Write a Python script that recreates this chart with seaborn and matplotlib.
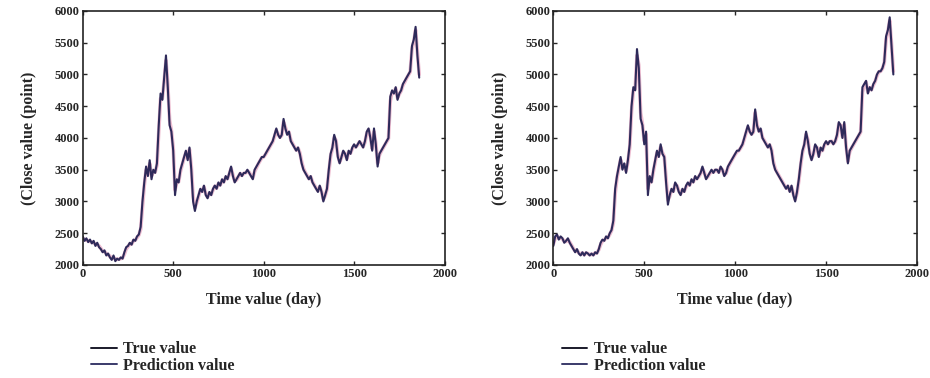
import numpy as np
import pandas as pd
import matplotlib
matplotlib.use("Agg")
import matplotlib.pyplot as plt
import seaborn as sns

# ---------------- data (10-day steps) ----------------
left_days = list(range(0, 1861, 10))
left_true = [
    2450, 2380, 2420, 2360, 2400, 2340, 2380, 2300, 2350, 2280,
    2250, 2200, 2230, 2150, 2180, 2120, 2080, 2150, 2060, 2100,
    2080, 2120, 2100, 2200, 2280, 2300, 2350, 2320, 2400, 2380,
    2450, 2480, 2600, 3000, 3300, 3550, 3400, 3650, 3350, 3500,
    3450, 3600, 4200, 4700, 4600, 4950, 5300, 4800, 4200, 4100,
    3800, 3100, 3350, 3300, 3500, 3600, 3700, 3800, 3650, 3850,
    3500, 3000, 2850, 3000, 3100, 3200, 3150, 3250, 3100, 3050,
    3150, 3100, 3200, 3250, 3200, 3300, 3250, 3350, 3300, 3400,
    3350, 3450, 3550, 3400, 3300, 3350, 3400, 3450, 3400, 3450,
    3450, 3500, 3450, 3400, 3350, 3500, 3550, 3600, 3650, 3700,
    3700, 3750, 3800, 3850, 3900, 3950, 4050, 4150, 4050, 4000,
    4050, 4300, 4150, 4050, 4100, 3950, 3900, 3850, 3800, 3850,
    3750, 3600, 3500, 3450, 3400, 3350, 3400, 3300, 3250, 3200,
    3150, 3250, 3150, 3000, 3100, 3200, 3500, 3750, 3850, 4050,
    3950, 3700, 3600, 3700, 3800, 3750, 3650, 3800, 3750, 3850,
    3900, 3850, 3900, 3950, 3900, 3850, 3950, 4100, 4150, 4000,
    3800, 4150, 3900, 3550, 3750, 3800, 3850, 3900, 3950, 4000,
    4650, 4750, 4700, 4800, 4600, 4700, 4750, 4850, 4900, 4950,
    5000, 5050, 5450, 5550, 5750, 5300, 4950,
]
left_pred = [
    2420, 2400, 2390, 2380, 2370, 2360, 2350, 2330, 2320, 2300,
    2260, 2220, 2210, 2180, 2160, 2140, 2100, 2120, 2090, 2090,
    2090, 2100, 2110, 2170, 2250, 2290, 2330, 2330, 2380, 2390,
    2430, 2470, 2560, 2900, 3250, 3500, 3430, 3600, 3400, 3470,
    3460, 3570, 4100, 4620, 4620, 4900, 5220, 4850, 4280, 4120,
    3850, 3180, 3300, 3310, 3470, 3580, 3680, 3770, 3680, 3820,
    3550, 3080, 2900, 2980, 3080, 3180, 3160, 3230, 3120, 3070,
    3130, 3110, 3180, 3240, 3210, 3280, 3260, 3330, 3310, 3380,
    3360, 3430, 3520, 3420, 3320, 3340, 3390, 3440, 3410, 3440,
    3450, 3480, 3460, 3410, 3370, 3470, 3530, 3590, 3640, 3690,
    3700, 3740, 3790, 3840, 3890, 3940, 4020, 4120, 4060, 4010,
    4040, 4250, 4170, 4070, 4090, 3970, 3910, 3860, 3810, 3840,
    3770, 3630, 3520, 3460, 3410, 3360, 3390, 3310, 3260, 3210,
    3170, 3230, 3160, 3030, 3090, 3190, 3450, 3710, 3830, 4010,
    3960, 3730, 3620, 3690, 3780, 3750, 3670, 3780, 3760, 3830,
    3880, 3860, 3890, 3940, 3910, 3860, 3930, 4070, 4130, 4020,
    3830, 4100, 3920, 3600, 3730, 3790, 3840, 3890, 3940, 3990,
    4580, 4720, 4710, 4780, 4630, 4690, 4740, 4830, 4880, 4940,
    4990, 5040, 5400, 5520, 5700, 5350, 5000,
]

right_days = list(range(0, 1871, 10))
right_true = [
    2300, 2450, 2480, 2400, 2450, 2420, 2350, 2380, 2420, 2350,
    2300, 2250, 2200, 2250, 2180, 2150, 2200, 2150, 2200, 2180,
    2150, 2180, 2150, 2200, 2180, 2250, 2350, 2400, 2380, 2450,
    2420, 2500, 2550, 2700, 3200, 3400, 3550, 3700, 3500, 3600,
    3450, 3650, 3900, 4500, 4800, 4750, 5400, 5100, 4300, 4200,
    3900, 4100, 3100, 3400, 3300, 3500, 3650, 3800, 3700, 3900,
    3750, 3700, 3300, 2950, 3100, 3200, 3150, 3300, 3250, 3150,
    3100, 3200, 3150, 3250, 3300, 3250, 3350, 3300, 3400, 3350,
    3400, 3450, 3550, 3450, 3350, 3400, 3450, 3500, 3450, 3500,
    3500, 3450, 3550, 3500, 3400, 3450, 3550, 3600, 3650, 3700,
    3750, 3800, 3800, 3850, 3900, 4000, 4100, 4200, 4100, 4050,
    4100, 4450, 4200, 4100, 4150, 4000, 3950, 3900, 3850, 3900,
    3800, 3600, 3500, 3450, 3400, 3350, 3300, 3250, 3200, 3250,
    3150, 3250, 3100, 3000, 3150, 3350, 3600, 3800, 3900, 4100,
    3950, 3750, 3650, 3750, 3900, 3850, 3700, 3850, 3800, 3900,
    3950, 3900, 3950, 3950, 3900, 3950, 4050, 4250, 4200, 4000,
    4250, 3850, 3600, 3800, 3850, 3900, 3950, 4000, 4050, 4100,
    4800, 4850, 4900, 4700, 4800, 4750, 4850, 4900, 5000, 5050,
    5050, 5100, 5200, 5600, 5700, 5900, 5450, 5000,
]
right_pred = [
    2330, 2420, 2460, 2420, 2430, 2410, 2370, 2370, 2400, 2360,
    2310, 2260, 2220, 2230, 2190, 2170, 2190, 2160, 2190, 2180,
    2160, 2170, 2160, 2190, 2190, 2240, 2320, 2380, 2390, 2430,
    2430, 2480, 2540, 2660, 3120, 3370, 3520, 3660, 3530, 3580,
    3480, 3620, 3850, 4420, 4750, 4770, 5300, 5150, 4400, 4220,
    3950, 4060, 3200, 3350, 3310, 3470, 3620, 3770, 3720, 3860,
    3770, 3710, 3360, 3020, 3080, 3180, 3160, 3270, 3250, 3170,
    3120, 3180, 3160, 3230, 3280, 3260, 3330, 3310, 3380, 3360,
    3390, 3440, 3520, 3460, 3370, 3390, 3440, 3480, 3460, 3490,
    3490, 3460, 3530, 3500, 3420, 3440, 3530, 3590, 3640, 3690,
    3740, 3780, 3800, 3840, 3890, 3980, 4080, 4170, 4110, 4060,
    4090, 4400, 4220, 4110, 4130, 4010, 3960, 3910, 3860, 3890,
    3820, 3630, 3520, 3460, 3410, 3360, 3310, 3260, 3210, 3240,
    3170, 3230, 3120, 3030, 3130, 3320, 3560, 3770, 3880, 4060,
    3970, 3770, 3670, 3740, 3870, 3850, 3720, 3830, 3800, 3880,
    3930, 3910, 3940, 3950, 3910, 3940, 4030, 4220, 4200, 4020,
    4210, 3880, 3630, 3780, 3840, 3890, 3940, 3990, 4040, 4090,
    4720, 4830, 4880, 4720, 4790, 4760, 4830, 4890, 4980, 5040,
    5050, 5090, 5180, 5550, 5680, 5850, 5480, 5050,
]

x_ticks = [0, 500, 1000, 1500, 2000]
y_ticks = [2000, 2500, 3000, 3500, 4000, 4500, 5000, 5500, 6000]
x_label = "Time value (day)"
y_label = "(Close value (point)"
series_names = ["True value", "Prediction value"]

# ---------------- style ----------------
sns.set_theme(style="ticks")
plt.rcParams["font.family"] = ["Liberation Serif", "DejaVu Serif"]
plt.rcParams["font.weight"] = "bold"

fig = plt.figure(figsize=(9.3, 3.78), dpi=100)
ax1 = fig.add_axes([0.089, 0.299, 0.389, 0.672])
ax2 = fig.add_axes([0.595, 0.299, 0.391, 0.672])

true_color = "#2e2a5a"
pred_color = "#d0588a"

for ax, days, tv, pv in [(ax1, left_days, left_true, left_pred),
                         (ax2, right_days, right_true, right_pred)]:
    df = pd.DataFrame({
        "day": list(days) * 2,
        "value": list(pv) + list(tv),
        "series": [series_names[1]] * len(pv) + [series_names[0]] * len(tv),
    })
    sns.lineplot(data=df[df.series == series_names[1]], x="day", y="value",
                 ax=ax, color=pred_color, lw=2.6, alpha=0.4, legend=False)
    sns.lineplot(data=df[df.series == series_names[0]], x="day", y="value",
                 ax=ax, color=true_color, lw=1.5, legend=False)
    ax.set_xlim(0, 2000)
    ax.set_ylim(2000, 6000)
    ax.set_xticks(x_ticks)
    ax.set_yticks(y_ticks)
    ax.tick_params(direction="in", length=3, width=1, labelsize=9,
                   top=True, right=True, pad=2)
    for lab in ax.get_xticklabels() + ax.get_yticklabels():
        lab.set_fontweight("bold")
    for sp in ax.spines.values():
        sp.set_linewidth(1.2)
        sp.set_color("#222222")
    ax.set_xlabel(x_label, fontsize=11.5, fontweight="bold", labelpad=9)
    ax.set_ylabel(y_label, fontsize=11.5, fontweight="bold", labelpad=13)
    handles = [plt.Line2D([], [], color="#1a1a2a", lw=1.4),
               plt.Line2D([], [], color="#3a3a6a", lw=1.4)]
    ax.legend(handles, series_names, loc="upper left",
              bbox_to_anchor=(0.005, -0.275), frameon=False,
              prop={"family": "Liberation Serif", "weight": "bold", "size": 11.5},
              handlelength=1.6, handletextpad=0.4, labelspacing=0.05,
              borderaxespad=0.0)

fig.savefig("out.png", dpi=100, facecolor="white")
